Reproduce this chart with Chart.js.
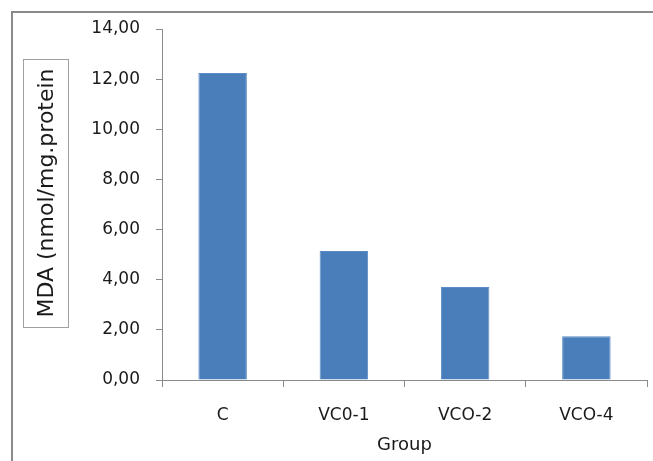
<!DOCTYPE html>
<html>
<head>
<meta charset="utf-8">
<script src="https://cdn.jsdelivr.net/npm/chart.js@4/dist/chart.umd.min.js"></script>
<style>
  html, body { margin: 0; padding: 0; background: #fff; }
  #wrap { position: relative; width: 653px; height: 461px; }
  #frame {
    position: absolute; left: 11px; top: 11px; right: 0; bottom: 0;
    border-left: 2px solid #8a8a8a; border-top: 2px solid #8a8a8a;
  }
  canvas { position: absolute; left: 0; top: 0; }
</style>
</head>
<body>
<div id="wrap">
  <div id="frame"></div>
  <canvas id="mdaChart" width="653" height="461"></canvas>
</div>
<script>
const groups = ["C", "VC0-1", "VCO-2", "VCO-4"];
const mdaValues = [12.25, 5.15, 3.71, 1.75];
const yTitle = "MDA (nmol/mg.protein";
const xTitle = "Group";

const fontFamily = "'DejaVu Sans', sans-serif";
const textColor = "#1a1a1a";

// draws the boxed y axis title
const yTitleBox = {
  id: "yTitleBox",
  afterDraw(chart) {
    const ctx = chart.ctx;
    ctx.save();
    ctx.strokeStyle = "#a0a0a0";
    ctx.lineWidth = 1;
    ctx.strokeRect(23.5, 59.5, 45, 268);
    ctx.translate(47, 193);
    ctx.rotate(-Math.PI / 2);
    ctx.fillStyle = textColor;
    ctx.font = "22px " + fontFamily;
    ctx.textAlign = "center";
    ctx.textBaseline = "middle";
    ctx.fillText(yTitle, 0, 0);
    ctx.restore();
  }
};

new Chart(document.getElementById("mdaChart").getContext("2d"), {
  type: "bar",
  data: {
    labels: groups,
    datasets: [{
      data: mdaValues,
      backgroundColor: "#4a7ebb",
      borderColor: "#5b8cc6",
      borderWidth: 1,
      categoryPercentage: 1,
      barPercentage: 0.4
    }]
  },
  options: {
    responsive: false,
    animation: false,
    layout: { padding: { left: 0, top: 29, right: 6, bottom: 0 } },
    plugins: { legend: { display: false }, tooltip: { enabled: false } },
    scales: {
      x: {
        afterFit(scale) { scale.height = 81; },
        grid: { drawOnChartArea: false, offset: true, tickLength: 7, color: "#8a8a8a" },
        border: { color: "#8a8a8a" },
        ticks: { color: textColor, padding: 18, font: { family: fontFamily, size: 17 } },
        title: {
          display: true, text: xTitle, color: textColor,
          padding: { top: 4, bottom: 5 },
          font: { family: fontFamily, size: 18 }
        }
      },
      y: {
        min: 0,
        max: 14,
        afterFit(scale) { scale.width = 162; },
        grid: { drawOnChartArea: false, tickLength: 6, color: "#8a8a8a" },
        border: { color: "#8a8a8a" },
        ticks: {
          stepSize: 2,
          color: textColor,
          padding: 16,
          font: { family: fontFamily, size: 17 },
          callback: (v) => v.toFixed(2).replace(".", ",")
        }
      }
    }
  },
  plugins: [yTitleBox]
});
</script>
</body>
</html>
